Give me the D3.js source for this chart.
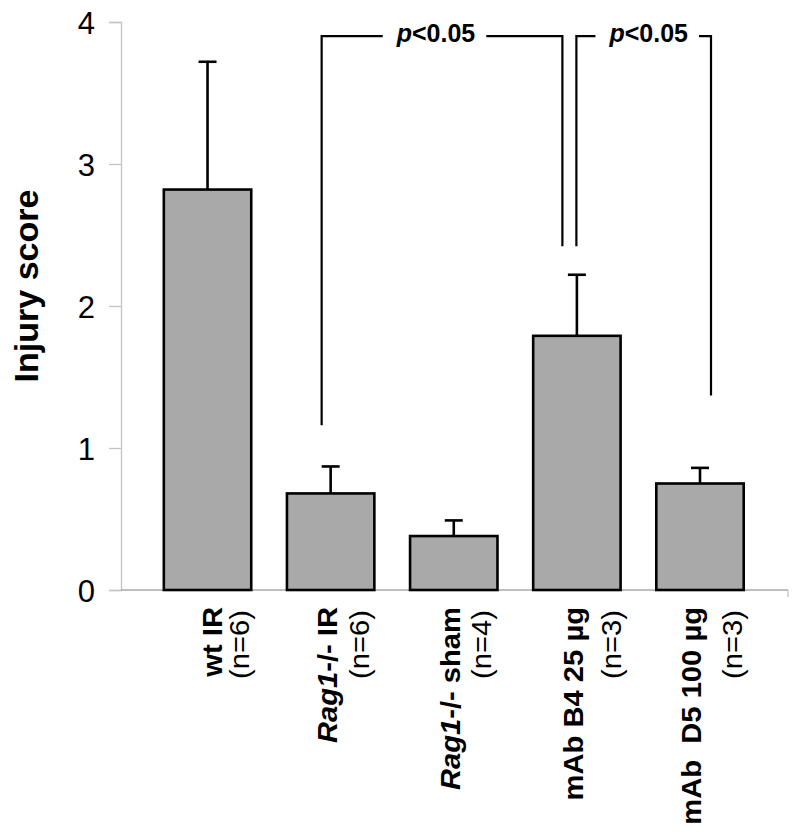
<!DOCTYPE html>
<html>
<head>
<meta charset="utf-8">
<script src="https://cdn.jsdelivr.net/npm/d3@7"></script>
<style>
  html, body { margin: 0; padding: 0; background: #fff; }
  svg { display: block; font-family: "Liberation Sans", Arial, sans-serif; }
</style>
</head>
<body>
<svg id="chart" width="800" height="839"></svg>
<script>
// ---- data ----
const categories = ["wt IR", "Rag1-/- IR", "Rag1-/- sham", "mAb B4 25 µg", "mAb  D5 100 µg"];
const italicPrefix = ["", "Rag1", "Rag1", "", ""];
const nLabels = ["(n=6)", "(n=6)", "(n=4)", "(n=3)", "(n=3)"];
const means = [2.82, 0.68, 0.38, 1.79, 0.75];
const errors = [0.90, 0.19, 0.11, 0.43, 0.11];
const yTicks = [0, 1, 2, 3, 4];
const yLabel = "Injury score";
const brackets = [
  { from: 1, to: 3, leftEnd: 1.16, rightEnd: 2.42, label: "p<0.05" },
  { from: 3, to: 4, leftEnd: 2.42, rightEnd: 1.37, label: "p<0.05" }
];
const bracketTop = 3.9;

// ---- layout ----
const svg = d3.select("#chart");
const axisX = 121, axisY = 590, topY = 22, rightX = 788;
const y = d3.scaleLinear().domain([0, 4]).range([axisY, topY]);
const x = d3.scaleBand().domain(categories).range([axisX, rightX + 4])
  .paddingInner(0.29).paddingOuter(0.37).align(0.47);
const cx = i => x(categories[i]) + x.bandwidth() / 2;

// y axis
const yAxis = d3.axisLeft(y).tickValues(yTicks).tickSize(12).tickPadding(14).tickFormat(d3.format("d"));
const gy = svg.append("g").attr("transform", `translate(${axisX},0)`).call(yAxis);
gy.select(".domain").attr("stroke", "#c4c4c4").attr("stroke-width", 1.3);
gy.selectAll(".tick line").attr("stroke", "#c4c4c4").attr("stroke-width", 1.3);
gy.selectAll(".tick text").attr("font-size", 31).attr("fill", "#000")
  .attr("font-family", "Liberation Sans, Arial, sans-serif").attr("dy", "0.36em");

// x axis line
svg.append("line").attr("x1", axisX).attr("x2", rightX).attr("y1", axisY).attr("y2", axisY)
  .attr("stroke", "#a8a8a8").attr("stroke-width", 1.5);
svg.append("line").attr("x1", rightX).attr("x2", rightX).attr("y1", axisY).attr("y2", axisY + 7)
  .attr("stroke", "#c4c4c4").attr("stroke-width", 1.3);

// y label
svg.append("text").attr("transform", `translate(38,286) rotate(-90)`)
  .attr("text-anchor", "middle").attr("font-size", 34).attr("font-weight", "bold").text(yLabel);

// bars
const data = categories.map((c, i) => ({ c, i, m: means[i], e: errors[i] }));
svg.selectAll("rect.bar").data(data).enter().append("rect")
  .attr("x", d => x(d.c)).attr("width", x.bandwidth())
  .attr("y", d => y(d.m)).attr("height", d => y(0) - y(d.m))
  .attr("fill", "#a9a9a9").attr("stroke", "#000").attr("stroke-width", 2.6);

// error bars
const eb = svg.selectAll("g.err").data(data).enter().append("g");
eb.append("line").attr("x1", d => cx(d.i)).attr("x2", d => cx(d.i))
  .attr("y1", d => y(d.m)).attr("y2", d => y(d.m + d.e))
  .attr("stroke", "#000").attr("stroke-width", 2.6);
eb.append("line").attr("x1", d => cx(d.i) - 9).attr("x2", d => cx(d.i) + 9)
  .attr("y1", d => y(d.m + d.e)).attr("y2", d => y(d.m + d.e))
  .attr("stroke", "#000").attr("stroke-width", 2.6);

// category labels (rotated)
const labelShift = [14, 6, 6, 6, 1];
const nShift = [41, 38, 37, 44, 42];
data.forEach(d => {
  const t = svg.append("text")
    .attr("transform", `translate(${cx(d.i) + labelShift[d.i]},607) rotate(-90) scale(1.08,1)`)
    .attr("text-anchor", "end").attr("font-size", 27).attr("font-weight", "bold")
    .attr("xml:space", "preserve");
  const pre = italicPrefix[d.i];
  if (pre) {
    t.append("tspan").attr("font-style", "italic").text(pre);
    t.append("tspan").text(d.c.slice(pre.length));
  } else {
    t.text(d.c);
  }
  svg.append("text")
    .attr("transform", `translate(${cx(d.i) + nShift[d.i]},610) rotate(-90) scale(1.08,1)`)
    .attr("text-anchor", "end").attr("font-size", 27).text(nLabels[d.i]);
});

// significance brackets
const legOffset = [[-9, -14.5], [-0.5, 11]];
const textDx = [-6, 5];
brackets.forEach((b, k) => {
  const xl = cx(b.from) + legOffset[k][0];
  const xr = cx(b.to) + legOffset[k][1];
  const yt = y(bracketTop);
  const tx = (xl + xr) / 2 + textDx[k];
  const t = svg.append("text").attr("x", tx).attr("y", yt + 6)
    .attr("text-anchor", "middle").attr("font-size", 25).attr("font-weight", "bold");
  t.append("tspan").attr("font-style", "italic").text(b.label[0]);
  t.append("tspan").text(b.label.slice(1));
  const w = t.node().getComputedTextLength();
  const g1 = tx - w / 2 - 14, g2 = tx + w / 2 + 11;
  const path = `M${xl},${y(b.leftEnd)}V${yt}H${g1}M${g2},${yt}H${xr}V${y(b.rightEnd)}`;
  svg.append("path").attr("d", path).attr("fill", "none")
    .attr("stroke", "#000").attr("stroke-width", 2.2);
});
</script>
</body>
</html>
